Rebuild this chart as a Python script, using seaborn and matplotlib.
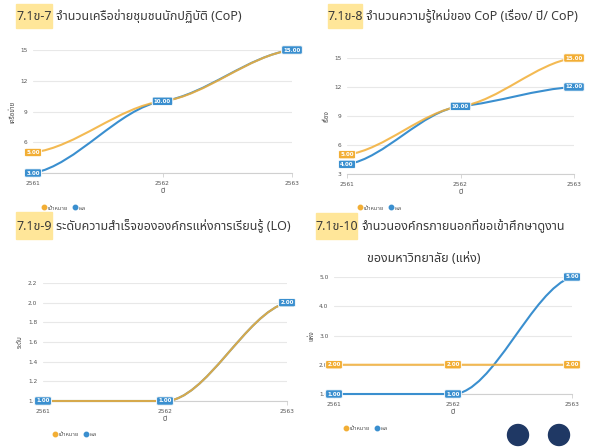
import matplotlib
matplotlib.use("Agg")
import matplotlib.pyplot as plt
import seaborn as sns
from matplotlib import font_manager
from matplotlib.ft2font import FT2Font
from matplotlib.path import Path
from matplotlib.patches import PathPatch, Circle, Rectangle
from matplotlib.lines import Line2D
from matplotlib.transforms import IdentityTransform

# data
years = [2561, 2562, 2563]
cop_target = [5, 10, 15]
cop_result = [3, 10, 15]
know_target = [5, 10, 15]
know_result = [4, 10, 12]
lo_target = [1, 1, 2]
lo_result = [1, 1, 2]
visit_target = [2, 2, 2]
visit_result = [1, 1, 5]

series_names = ["เป้าหมาย", "ผล"]
codes = ["7.1ข-7", "7.1ข-8", "7.1ข-9", "7.1ข-10"]
titles = [
    "จำนวนเครือข่ายชุมชนนักปฏิบัติ (CoP)",
    "จำนวนความรู้ใหม่ของ CoP (เรื่อง/ ปี/ CoP)",
    "ระดับความสำเร็จขององค์กรแห่งการเรียนรู้ (LO)",
    "จำนวนองค์กรภายนอกที่ขอเข้าศึกษาดูงาน",
]
title4_line2 = "ของมหาวิทยาลัย (แห่ง)"
ylabels = ["เครือข่าย", "เรื่อง", "ระดับ", "แห่ง"]
xlabel = "ปี"

ORANGE = "#F2AE35"
BLUE = "#3A8FCF"
W, H = 590, 447

sns.set_theme(style="white")


def find_thai_font():
    found = []
    for f in font_manager.fontManager.ttflist:
        try:
            if 0x0E08 in FT2Font(f.fname).get_charmap():
                found.append(f.name)
        except Exception:
            pass
    for pref in ["Noto Sans Thai", "Noto Sans Thai UI", "Sarabun", "Loma", "Garuda", "Tlwg Typo"]:
        if pref in found:
            return pref
    return found[0] if found else None


thai = find_thai_font()
fams = ([thai] if thai else []) + ["DejaVu Sans"]
plt.rcParams["font.family"] = fams

fig = plt.figure(figsize=(W / 100, H / 100), dpi=100)
fig.patch.set_facecolor("white")


def rect(x0, x1, ytop, ybot):
    return [x0 / W, 1 - ybot / H, (x1 - x0) / W, (ybot - ytop) / H]


def curve(ax, ys, color, z, alpha=1.0):
    # smooth spline-like path through the data points
    n = len(years)
    sec = [(ys[i + 1] - ys[i]) / (years[i + 1] - years[i]) for i in range(n - 1)]
    tang = []
    for i in range(n):
        if i == 0:
            m = 0.3 * sec[0]
        elif i == n - 1:
            m = 0.3 * sec[-1]
        else:
            a, b = sec[i - 1], sec[i]
            m = 0.0 if a * b <= 0 else 0.3 * (a + b) / 2
        tang.append(m)
    verts = [(years[0], ys[0])]
    cds = [Path.MOVETO]
    for i in range(n - 1):
        dx = (years[i + 1] - years[i]) / 3
        verts += [(years[i] + dx, ys[i] + tang[i] * dx),
                  (years[i + 1] - dx, ys[i + 1] - tang[i + 1] * dx),
                  (years[i + 1], ys[i + 1])]
        cds += [Path.CURVE4] * 3
    ax.add_patch(PathPatch(Path(verts, cds), fill=False, ec=color, lw=1.5,
                           zorder=z, alpha=alpha, clip_on=False))


def labels(ax, ys, color):
    for x, y in zip(years, ys):
        ax.annotate(f"{y:.2f}", (x, y), ha="center", va="center", fontsize=4,
                    color="white", fontweight="bold", family="DejaVu Sans",
                    bbox=dict(boxstyle="round,pad=0.3,rounding_size=0.25",
                              fc=color, ec="white", lw=0.6),
                    annotation_clip=False, zorder=6)


def panel(r, target, result, ylim, yticks, yfmt, ylab):
    ax = fig.add_axes(r)
    ax.set_xlim(years[0], years[-1])
    ax.set_ylim(*ylim)
    ax.set_xticks(years)
    ax.set_xticklabels([str(y) for y in years], family="DejaVu Sans")
    ax.set_yticks(yticks)
    ax.set_yticklabels([yfmt.format(v) for v in yticks], family="DejaVu Sans")
    ax.grid(axis="y", color="#e8e8e8", lw=0.8)
    ax.set_axisbelow(True)
    sns.despine(ax=ax, left=True)
    ax.spines["bottom"].set_color("#d0d0d0")
    ax.spines["bottom"].set_linewidth(0.8)
    ax.tick_params(axis="y", labelsize=4.2, colors="#555555", length=0, pad=4)
    ax.tick_params(axis="x", labelsize=4.2, colors="#555555", length=3,
                   width=0.6, color="#d0d0d0", pad=3, bottom=True)
    ax.set_xlabel(xlabel, fontsize=5, color="#444444", labelpad=1)
    ax.set_ylabel(ylab, fontsize=4.5, color="#444444", labelpad=3)
    curve(ax, result, BLUE, 3)
    curve(ax, target, ORANGE, 4, alpha=0.85)
    labels(ax, target, ORANGE)
    labels(ax, result, BLUE)
    return ax


panel(rect(33, 292, 50, 173), cop_target, cop_result, (3, 15),
      [3, 6, 9, 12, 15], "{:.0f}", ylabels[0])
panel(rect(347, 574, 58, 174), know_target, know_result, (3, 15),
      [3, 6, 9, 12, 15], "{:.0f}", ylabels[1])
panel(rect(43, 287, 283, 401), lo_target, lo_result, (1, 2.2),
      [1.0, 1.2, 1.4, 1.6, 1.8, 2.0, 2.2], "{:.1f}", ylabels[2])
panel(rect(334, 572, 277, 394), visit_target, visit_result, (1, 5),
      [1, 2, 3, 4, 5], "{:.1f}", ylabels[3])

# legends under each chart
handles = [Line2D([], [], marker="o", ls="", ms=3.2, color=ORANGE),
           Line2D([], [], marker="o", ls="", ms=3.2, color=BLUE)]
for lx, ly in [(42, 208), (358, 208), (53, 434), (344, 428)]:
    fig.legend(handles, series_names, loc="center left",
               bbox_to_anchor=(lx / W, 1 - ly / H), ncol=2, frameon=False,
               fontsize=4.2, handletextpad=0.1, columnspacing=0.9,
               borderpad=0, borderaxespad=0, handlelength=0.8,
               labelcolor="#555555")

# titles with highlighted codes
boxes = [(16, 52, 4, 28, 16), (328, 362, 4, 28, 16),
         (16, 52, 212, 239, 226), (316, 357, 213, 239, 226)]
for (bx0, bx1, by0, by1, cy), code, ttl in zip(boxes, codes, titles):
    fig.patches.append(Rectangle((bx0 / W, 1 - by1 / H), (bx1 - bx0) / W,
                                 (by1 - by0) / H, transform=fig.transFigure,
                                 color="#FFE699", zorder=0))
    fig.text((bx0 + bx1) / 2 / W, 1 - cy / H, code, ha="center", va="center",
             fontsize=9, color="#3a3a3a")
    fig.text((bx1 + 4) / W, 1 - cy / H, ttl, ha="left", va="center",
             fontsize=9, color="#3a3a3a")
fig.text(367 / W, 1 - 258 / H, title4_line2, ha="left", va="center",
         fontsize=9, color="#3a3a3a")

# slide decoration dots
for cx in [518, 559]:
    fig.patches.append(Circle((cx, H - 435), 10.5, transform=IdentityTransform(),
                              color="#1F3864", zorder=10))

fig.savefig("out.png", dpi=100)
